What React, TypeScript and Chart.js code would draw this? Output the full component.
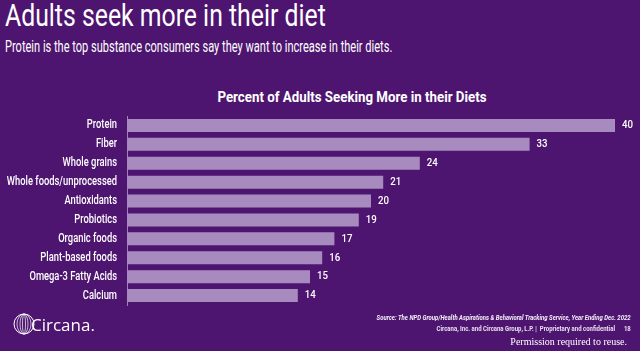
import React, { useEffect, useRef } from "react";
import { Chart, registerables } from "chart.js";

Chart.register(...registerables);

const categories = [
  "Protein",
  "Fiber",
  "Whole grains",
  "Whole foods/unprocessed",
  "Antioxidants",
  "Probiotics",
  "Organic foods",
  "Plant-based foods",
  "Omega-3 Fatty Acids",
  "Calcium",
];
const values = [40, 33, 24, 21, 20, 19, 17, 16, 15, 14];

const BG = "#4e1570";
const BAR = "#a88bbe";
const FONT = "'Roboto', sans-serif";
const SQUEEZE = 0.78;

const customText = {
  id: "customText",
  afterDatasetsDraw(chart: any) {
    const ctx = chart.ctx;
    const meta = chart.getDatasetMeta(0);
    const yScale = chart.scales.y;
    ctx.save();
    ctx.fillStyle = "#ffffff";
    ctx.textBaseline = "middle";
    ctx.font = `500 12px ${FONT}`;
    ctx.textAlign = "right";
    categories.forEach((c, i) => {
      const y = yScale.getPixelForTick(i);
      const x = chart.chartArea.left - 10;
      ctx.save();
      ctx.translate(x, y);
      ctx.scale(SQUEEZE, 1);
      ctx.fillText(c, 0, 0);
      ctx.restore();
    });
    ctx.font = `500 11px ${FONT}`;
    ctx.textAlign = "left";
    meta.data.forEach((el: any, i: number) => {
      ctx.save();
      ctx.translate(el.x + 7, el.y);
      ctx.scale(0.88, 1);
      ctx.fillText(String(values[i]), 0, 0);
      ctx.restore();
    });
    ctx.restore();
  },
};

function BarChart() {
  const ref = useRef<HTMLCanvasElement | null>(null);
  useEffect(() => {
    if (!ref.current) return;
    const chart = new Chart(ref.current, {
      type: "bar",
      data: {
        labels: categories,
        datasets: [
          {
            data: values,
            backgroundColor: BAR,
            barPercentage: 0.69,
            categoryPercentage: 1,
          },
        ],
      },
      options: {
        indexAxis: "y",
        animation: false,
        responsive: false,
        maintainAspectRatio: false,
        layout: { padding: { top: 116, bottom: 46, right: 25, left: 0 } },
        plugins: { legend: { display: false }, tooltip: { enabled: false } },
        scales: {
          x: { display: false, min: 0, max: 40 },
          y: {
            afterFit(scale: any) {
              scale.width = 127;
            },
            grid: { display: false, drawTicks: false },
            border: { display: true, color: "#9c84b4", width: 1 },
            ticks: { display: false },
          },
        },
      },
      plugins: [customText],
    });
    return () => chart.destroy();
  }, []);
  return (
    <canvas
      ref={ref}
      width={640}
      height={351}
      style={{ position: "absolute", left: 0, top: 0, width: 640, height: 351 }}
    />
  );
}

const squeezed = (s: number, origin: string) => ({
  transform: `scaleX(${s})`,
  transformOrigin: origin,
});

export default function App() {
  useEffect(() => {
    document.body.style.margin = "0";
  }, []);
  return (
    <div
      style={{
        position: "fixed",
        left: 0,
        top: 0,
        width: 640,
        height: 351,
        background: BG,
        overflow: "hidden",
        color: "#ffffff",
      }}
    >
      <div
        style={{
          position: "absolute",
          left: 5,
          top: -3,
          fontFamily: FONT,
          fontSize: 31,
          whiteSpace: "nowrap",
          ...squeezed(0.8, "left"),
        }}
      >
        Adults seek more in their diet
      </div>
      <div
        style={{
          position: "absolute",
          left: 5,
          top: 37,
          fontFamily: FONT,
          fontSize: 16,
          whiteSpace: "nowrap",
          ...squeezed(0.69, "left"),
        }}
      >
        Protein is the top substance consumers say they want to increase in their diets.
      </div>
      <div
        style={{
          position: "absolute",
          left: 0,
          width: 704,
          top: 89,
          textAlign: "center",
          fontFamily: FONT,
          fontWeight: "bold",
          fontSize: 14,
          whiteSpace: "nowrap",
          ...squeezed(0.95, "center"),
        }}
      >
        Percent of Adults Seeking More in their Diets
      </div>
      <BarChart />
      <svg
        width={22}
        height={22}
        viewBox="0 0 22 22"
        style={{ position: "absolute", left: 13, top: 313 }}
      >
        <circle cx={11} cy={11} r={10} fill="none" stroke="#ffffff" strokeWidth={1} />
        <ellipse cx={11} cy={11} rx={7} ry={10} fill="none" stroke="#ffffff" strokeWidth={0.7} />
        <ellipse cx={11} cy={11} rx={4} ry={10} fill="none" stroke="#ffffff" strokeWidth={0.7} />
        <ellipse cx={11} cy={11} rx={1.5} ry={10} fill="none" stroke="#ffffff" strokeWidth={0.7} />
      </svg>
      <div
        style={{
          position: "absolute",
          left: 31,
          top: 313,
          fontFamily: "'Open Sans', sans-serif",
          fontSize: 17,
          fontWeight: 500,
          whiteSpace: "nowrap",
        }}
      >
        Circana.
      </div>
      <div
        style={{
          position: "absolute",
          right: 9,
          top: 313,
          fontFamily: FONT,
          fontSize: 7.5,
          fontStyle: "italic",
          fontWeight: "bold",
          whiteSpace: "nowrap",
          color: "#f4eef8",
          ...squeezed(0.8, "right"),
        }}
      >
        Source: The NPD Group/Health Aspirations &amp; Behavioral Tracking Service, Year Ending Dec. 2022
      </div>
      <div
        style={{
          position: "absolute",
          right: 9,
          top: 324,
          fontFamily: FONT,
          fontSize: 7.5,
          fontWeight: "bold",
          whiteSpace: "pre",
          color: "#e8e0ee",
          ...squeezed(0.8, "right"),
        }}
      >
        {"Circana, Inc. and Circana Group, L.P. |  Proprietary and confidential      18"}
      </div>
      <div
        style={{
          position: "absolute",
          right: 13,
          top: 336,
          fontFamily: "'Liberation Serif', serif",
          fontSize: 10,
          whiteSpace: "nowrap",
          color: "#ffffff",
        }}
      >
        Permission required to reuse.
      </div>
    </div>
  );
}
